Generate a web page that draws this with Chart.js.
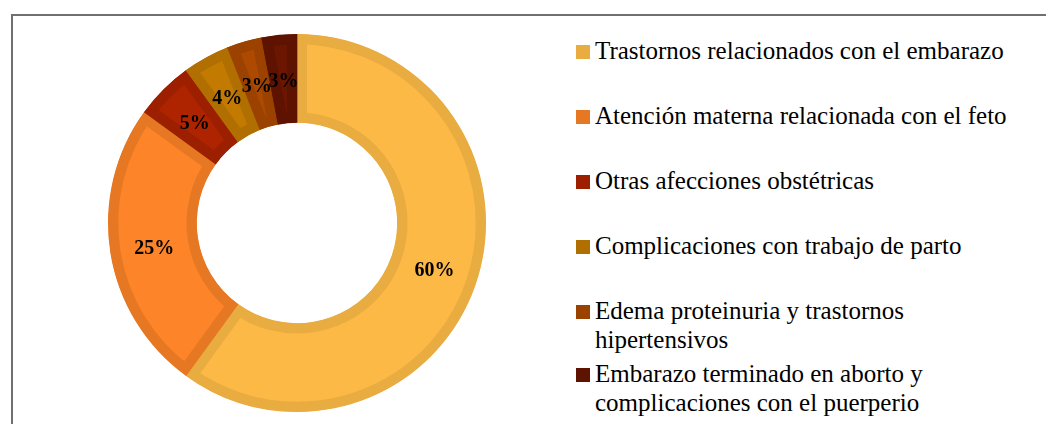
<!DOCTYPE html>
<html>
<head>
<meta charset="utf-8">
<script src="https://cdn.jsdelivr.net/npm/chart.js@4.4.0/dist/chart.umd.min.js"></script>
<style>
    body { margin: 0; background: #fff; width: 1046px; height: 424px; overflow: hidden; position: relative; }
    #frame { position: absolute; left: 11px; top: 14px; width: 1100px; height: 500px; border-left: 2px solid #707070; border-top: 2px solid #707070; }
    #wrap { position: absolute; left: 97px; top: 23px; width: 400px; height: 400px; }
    #legend { position: absolute; left: 576px; top: 36px; width: 450px; font-family: "Liberation Serif", "Times New Roman", serif; font-size: 25px; line-height: 29px; color: #000; }
    #legend .item { display: flex; align-items: flex-start; height: 65px; }
    #legend .item:nth-child(5) { height: 63px; }
    #legend .box { width: 14px; height: 14px; margin-top: 9px; margin-right: 5px; flex: none; }
    #legend .txt { width: 422px; }
</style>
</head>
<body>
<div id="frame"></div>
<div id="wrap"><canvas id="chart"></canvas></div>
<div id="legend"></div>
<script>
const categories = [
    'Trastornos relacionados con el embarazo',
    'Atención materna relacionada con el feto',
    'Otras afecciones obstétricas',
    'Complicaciones con trabajo de parto',
    'Edema proteinuria y trastornos hipertensivos',
    'Embarazo terminado en aborto y complicaciones con el puerperio'
];
const percentages = [60, 25, 5, 4, 3, 3];
const fillColors = ['#FDB946', '#FD8428', '#AE2300', '#C27B00', '#AE4A00', '#6B1600'];
const edgeColors = ['#E8AC41', '#E67823', '#9C1F00', '#B06F00', '#9B4200', '#5E1200'];

// legend as html, same order as the slices
const legend = document.getElementById('legend');
legend.innerHTML = categories.map((name, i) =>
    `<div class="item"><span class="box" style="background:${edgeColors[i]}"></span><span class="txt">${name}</span></div>`
).join('');

const sliceLabels = {
    id: 'sliceLabels',
    afterDatasetsDraw(chart) {
        const ctx = chart.ctx;
        const meta = chart.getDatasetMeta(0);
        ctx.save();
        ctx.font = 'bold 20px "Liberation Serif", serif';
        ctx.fillStyle = '#000';
        ctx.textAlign = 'center';
        ctx.textBaseline = 'middle';
        meta.data.forEach((arc, i) => {
            const pos = arc.tooltipPosition();
            ctx.fillText(percentages[i] + '%', pos.x, pos.y + 3);
        });
        ctx.restore();
    }
};

new Chart(document.getElementById('chart'), {
    type: 'doughnut',
    data: {
        labels: categories,
        datasets: [{
            data: percentages,
            backgroundColor: fillColors,
            borderColor: edgeColors,
            borderWidth: 10,
            borderAlign: 'inner',
            borderJoinStyle: 'miter'
        }]
    },
    options: {
        responsive: true,
        maintainAspectRatio: false,
        animation: false,
        radius: 189,
        cutout: '53%',
        layout: { padding: 0 },
        plugins: {
            legend: { display: false },
            tooltip: { enabled: false }
        }
    },
    plugins: [sliceLabels]
});
</script>
</body>
</html>
